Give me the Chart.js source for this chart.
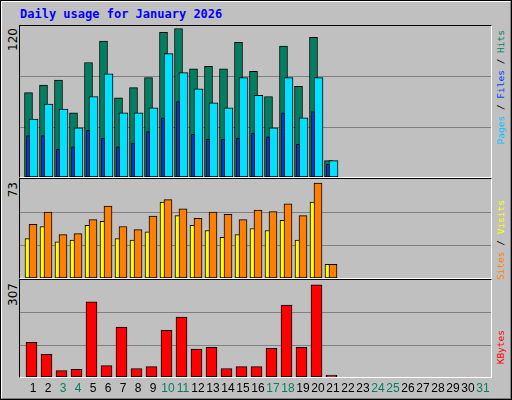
<!DOCTYPE html>
<html>
<head>
<meta charset="utf-8">
<script src="https://cdn.jsdelivr.net/npm/chart.js@4/dist/chart.umd.min.js"></script>
<style>
  body { margin: 0; background: #fff; }
  #frame { position: absolute; left: 0; top: 0; width: 508px; height: 396px; background: #c0c0c0;
           border: 2px solid; border-color: #fff #808080 #808080 #fff; outline: 1px solid #000; outline-offset: -1px; }
  #title { position: absolute; left: 20px; top: 7px; font: bold 12px "DejaVu Sans Mono", monospace; color: #0000ff; }
  .panel { position: absolute; left: 19px; width: 471px; border-style: solid; border-width: 1px;
           border-color: #000 #fff #fff #000; }
  canvas { display: block; }
  .rot { position: absolute; transform-origin: 0 0; transform: rotate(-90deg); white-space: nowrap;
         text-align: right; font: 9.5px "DejaVu Sans Mono", monospace; line-height: 10px; }
  .max { font: 12px "DejaVu Sans", sans-serif; color: #000; line-height: 12px; }
</style>
</head>
<body>
<div id="frame"></div>
<div id="title">Daily usage for January 2026</div>

<div class="panel" style="top:25px;height:151px"><canvas id="c1" width="471" height="151"></canvas></div>
<div class="panel" style="top:178px;height:99px"><canvas id="c2" width="471" height="99"></canvas></div>
<div class="panel" style="top:279px;height:97px"><canvas id="c3" width="471" height="117" style="height:117px"></canvas></div>

<div class="rot max" style="left:7px;top:88px;width:60px">120</div>
<div class="rot max" style="left:7px;top:242px;width:60px">73</div>
<div class="rot max" style="left:7px;top:343px;width:60px">307</div>

<div class="rot" style="left:496px;top:230px;width:200px"><span style="color:#00c0ff">Pages</span> / <span style="color:#0040ff">Files</span> / <span style="color:#008060">Hits</span></div>
<div class="rot" style="left:496px;top:400px;width:200px"><span style="color:#ff8000">Sites</span> / <span style="color:#ffff00">Visits</span></div>
<div class="rot" style="left:496px;top:530px;width:200px"><span style="color:#ff0000">KBytes</span></div>

<script>
const days = Array.from({ length: 31 }, (_, i) => i + 1);
const weekend = [3, 4, 10, 11, 17, 18, 24, 25, 31];

const hits   = [67, 73, 77, 51, 91, 108, 63, 71, 79, 115, 118, 86, 88, 86, 107, 84, 64, 104, 72, 111, 13];
const files  = [46, 58, 54, 39, 64, 82, 51, 51, 55, 98, 83, 70, 59, 55, 79, 65, 39, 79, 47, 79, 13];
const pages  = [33, 33, 22, 24, 37, 31, 24, 27, 36, 47, 60, 34, 30, 30, 31, 35, 32, 51, 26, 52, 10];
const sites  = [29, 38, 26.6, 28, 38.8, 41.8, 29, 28, 34, 56, 46, 38.8, 35, 30, 32, 36.5, 35, 42.6, 28, 56, 10];
const visits = [39.5, 48.6, 32, 32.7, 43, 53, 38, 35.7, 45.6, 57.8, 51, 44, 48.6, 47, 43, 50, 49, 54.7, 46, 70, 10];
const kbytes = [110, 72, 20, 24, 238, 36, 158, 27, 33, 148, 190, 88, 94, 27, 33, 33, 91, 228, 94, 292, 6];

const maxes = { hits: 120, visits: 73, kbytes: 307 };

function series(vals, shift, thick, color) {
  return {
    data: vals.map((v, i) => ({ x: days[i] + shift / 15, y: v })),
    backgroundColor: color, borderColor: '#000', borderWidth: 1,
    barThickness: thick, grouped: false, borderSkipped: false
  };
}

const gridPlugin = {
  id: 'grid',
  beforeDatasetsDraw(chart) {
    const { ctx, chartArea, scales } = chart;
    const m = scales.y.max;
    ctx.save();
    ctx.strokeStyle = '#808080';
    ctx.lineWidth = 1;
    [m / 3, 2 * m / 3].forEach(v => {
      const y = Math.round(scales.y.getPixelForValue(v)) + 0.5;
      ctx.beginPath(); ctx.moveTo(chartArea.left, y); ctx.lineTo(chartArea.right, y); ctx.stroke();
    });
    ctx.restore();
  }
};

const labelPlugin = {
  id: 'daylabels',
  afterDraw(chart) {
    if (!chart.options.plugins.daylabels) return;
    const { ctx, scales, chartArea } = chart;
    ctx.save();
    ctx.font = '12px "Liberation Sans", Arial, sans-serif';
    ctx.textAlign = 'center';
    ctx.textBaseline = 'middle';
    days.forEach(d => {
      ctx.fillStyle = weekend.includes(d) ? '#008060' : '#000';
      ctx.fillText(String(d), scales.x.getPixelForValue(d + 8 / 15), chartArea.bottom + 12);
    });
    ctx.restore();
  }
};

function makeChart(id, datasets, max, labels) {
  new Chart(document.getElementById(id), {
    type: 'bar',
    data: { datasets },
    plugins: [gridPlugin, labelPlugin],
    options: {
      responsive: false, animation: false,
      layout: { padding: { bottom: labels ? 20 : 0 } },
      plugins: { legend: { display: false }, tooltip: { enabled: false }, daylabels: labels },
      scales: {
        x: { type: 'linear', offset: false, min: 2 / 3, max: 2 / 3 + 471 / 15, display: false },
        y: { min: 0, max, display: false }
      }
    }
  });
}

// dataset 0 is drawn on top
makeChart('c1', [
  series(pages, 3, 3, '#0040ff'),
  series(files, 8.5, 9, '#00e0ff'),
  series(hits, 3.5, 8, '#008060')
], maxes.hits, false);

makeChart('c2', [
  series(visits, 8, 8, '#ff8000'),
  series(sites, 2.5, 5, '#ffff00')
], maxes.visits, false);

makeChart('c3', [
  series(kbytes, 6.5, 11, '#ff0000')
], maxes.kbytes, true);
</script>
</body>
</html>
